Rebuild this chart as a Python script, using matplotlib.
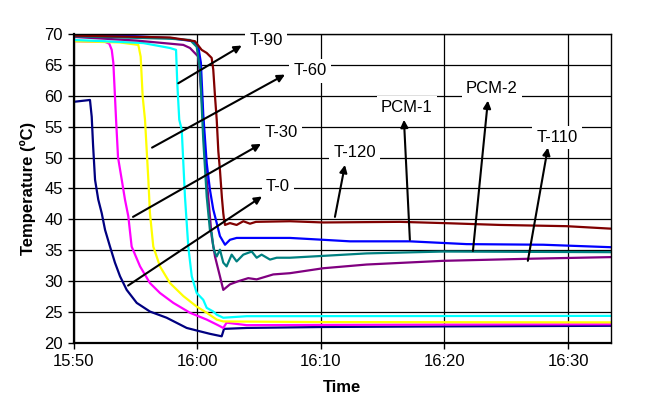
import matplotlib
matplotlib.use('Agg')
from matplotlib import pyplot as plt

plt.rcParams['font.family'] = ['Liberation Sans', 'DejaVu Sans']

# minutes after 15:50 / temperature (C)
t0_t = [0, 1.33, 1.47, 1.58, 1.74, 2.0, 2.28, 2.55, 2.95, 3.35, 3.76, 4.30, 5.11, 6.18, 7.53, 9.15, 10.23, 11.03, 11.98, 12.17, 14.0, 20, 30, 43.45]
t0_v = [59.0, 59.3, 56.6, 52.0, 46.4, 43.2, 41.0, 38.3, 35.6, 33.0, 30.8, 28.6, 26.5, 25.1, 24.1, 22.45, 21.9, 21.5, 21.1, 22.3, 22.45, 22.6, 22.7, 22.8]

t30_t = [0, 2.55, 2.89, 3.09, 3.22, 3.35, 3.44, 3.6, 3.90, 4.16, 4.43, 4.70, 5.38, 6.18, 6.99, 8.07, 9.42, 10.77, 11.58, 12.11, 12.38, 14.0, 30, 43.45]
t30_v = [68.8, 68.7, 68.4, 67.4, 65.3, 59.9, 56.1, 50.0, 46.4, 43.2, 40.5, 35.6, 32.4, 29.7, 28.1, 26.5, 24.9, 23.8, 23.0, 22.45, 23.3, 22.9, 23.0, 23.05]

t60_t = [0, 3.76, 5.24, 5.43, 5.59, 5.78, 6.05, 6.18, 6.45, 6.99, 7.80, 8.88, 9.96, 10.77, 11.58, 12.11, 20, 43.45]
t60_v = [68.8, 68.6, 68.2, 66.3, 59.9, 56.1, 46.4, 41.0, 35.6, 32.4, 29.7, 27.6, 25.9, 24.9, 23.8, 23.5, 23.4, 23.35]

t90_t = [0, 2.41, 5.64, 7.80, 8.29, 8.39, 8.55, 8.75, 9.01, 9.28, 9.56, 9.96, 10.49, 10.77, 11.30, 11.58, 12.11, 14.0, 43.45]
t90_v = [69.0, 68.8, 68.5, 67.7, 67.4, 62.0, 56.1, 54.5, 43.7, 35.6, 30.8, 28.1, 27.0, 25.7, 25.1, 24.6, 24.1, 24.35, 24.4]

pcm1_t = [0, 5.0, 7.80, 9.68, 10.09, 10.30, 10.49, 10.77, 11.03, 11.30, 11.58, 11.84, 12.25, 12.65, 13.19, 14.81, 17.50, 20.19, 22.35, 27.2, 31.79, 37.98, 43.45]
pcm1_v = [69.8, 69.6, 69.3, 68.8, 67.9, 65.3, 57.0, 49.1, 44.8, 41.6, 39.4, 37.3, 35.9, 36.7, 37.0, 37.0, 37.0, 36.7, 36.45, 36.45, 36.0, 35.9, 35.5]

pcm2_t = [0, 7.8, 9.42, 9.96, 10.23, 10.49, 10.77, 11.03, 11.17, 11.30, 11.44, 11.58, 11.84, 12.11, 12.38, 12.79, 13.19, 13.73, 14.41, 14.81, 15.21, 15.89, 16.43, 17.5, 20.19, 23.70, 29.9, 43.45]
pcm2_v = [69.6, 69.2, 69.0, 67.9, 64.2, 52.9, 43.7, 38.3, 37.8, 35.6, 34.6, 34.0, 35.1, 33.0, 32.4, 34.3, 33.2, 34.3, 34.8, 33.8, 34.3, 33.5, 33.8, 33.8, 34.1, 34.5, 34.8, 34.7]

t120_t = [0, 7.8, 9.82, 10.36, 10.77, 11.17, 11.30, 11.44, 11.58, 11.71, 11.84, 12.0, 12.11, 12.17, 12.25, 12.65, 13.19, 13.73, 14.27, 14.75, 17.5, 20.19, 26.39, 29.9, 34.48, 39.87, 43.45]
t120_v = [69.7, 69.4, 68.8, 67.4, 66.9, 66.1, 64.2, 59.9, 56.1, 51.0, 48.0, 43.5, 41.0, 40.0, 39.1, 39.4, 39.1, 39.7, 39.3, 39.6, 39.7, 39.5, 39.6, 39.4, 39.1, 38.9, 38.5]

t110_t = [0, 5.11, 8.88, 9.42, 10.09, 10.36, 10.77, 11.17, 11.44, 11.84, 12.11, 12.65, 13.32, 14.13, 14.81, 16.15, 17.5, 20.19, 23.70, 29.9, 37.17, 43.45]
t110_v = [69.5, 68.9, 68.2, 67.7, 66.3, 59.9, 46.4, 37.3, 34.0, 30.8, 28.6, 29.5, 30.0, 30.5, 30.3, 31.1, 31.3, 32.1, 32.7, 33.3, 33.65, 33.9]

tick_pos = [0, 10, 20, 30]
tick_lab = ['15:50', '16:00', '16:10', '16:20', '16:30']

# label text, label position, arrow tail, arrow head
labels = ['T-90', 'T-60', 'T-30', 'T-0', 'T-120', 'PCM-1', 'PCM-2', 'T-110']
label_xy = [(15.56, 68.9), (19.12, 64.0), (16.77, 54.0), (16.53, 45.3),
            (22.76, 50.8), (26.96, 58.05), (33.83, 61.1), (39.09, 53.2)]
arrow_from = [(8.47, 62.0), (6.35, 51.6), (4.81, 40.4), (4.41, 29.3),
              (21.14, 40.4), (27.2, 36.7), (32.3, 34.9), (36.74, 33.3)]
arrow_to = [(13.6, 68.1), (17.1, 63.4), (15.16, 52.2), (15.24, 43.7),
            (21.95, 48.8), (26.72, 56.1), (33.51, 59.2), (38.36, 51.6)]

fig = plt.figure(figsize=(6.45, 4.07), dpi=100)
ax = fig.add_axes([0.114, 0.157, 0.833, 0.760])

lw = 1.6
ax.plot(t0_t, t0_v, color='#000080', lw=lw)
ax.plot(t30_t, t30_v, color='#ff00ff', lw=lw)
ax.plot(t60_t, t60_v, color='#ffff00', lw=lw)
ax.plot(t90_t, t90_v, color='#00ffff', lw=lw)
ax.plot(t110_t, t110_v, color='#800080', lw=lw)
ax.plot(pcm1_t, pcm1_v, color='#0000ff', lw=lw)
ax.plot(pcm2_t, pcm2_v, color='#008080', lw=lw)
ax.plot(t120_t, t120_v, color='#800000', lw=lw)

ax.set_xlim(0, 43.45)
ax.set_ylim(20, 70)
ax.set_yticks(range(20, 71, 5))
ax.set_xticks([0, 10, 20, 30, 40][:len(tick_lab)])
ax.set_xticklabels(tick_lab)
ax.set_xticks([0, 10, 20, 30, 40])
ax.grid(True, color='black', lw=0.9)
ax.set_axisbelow(True)
for s in ax.spines.values():
    s.set_linewidth(1.0)
ax.spines['left'].set_linewidth(1.6)
ax.spines['bottom'].set_linewidth(1.6)
ax.tick_params(direction='out', length=4, width=1, labelsize=12, color='black')

ax.set_xlabel('Time', fontsize=12, fontweight='bold', labelpad=8)
ax.set_ylabel('Temperature (ºC)', fontsize=12, fontweight='bold', labelpad=6)

for lab, xy, a, b in zip(labels, label_xy, arrow_from, arrow_to):
    ax.annotate('', xy=b, xytext=a,
                arrowprops=dict(arrowstyle='-|>', color='black', lw=1.5,
                                mutation_scale=11, shrinkA=0, shrinkB=0))
    ax.text(xy[0], xy[1], lab, fontsize=12, ha='center', va='center',
            bbox=dict(facecolor='white', edgecolor='none', pad=3))

fig.savefig('out.png', dpi=100)
